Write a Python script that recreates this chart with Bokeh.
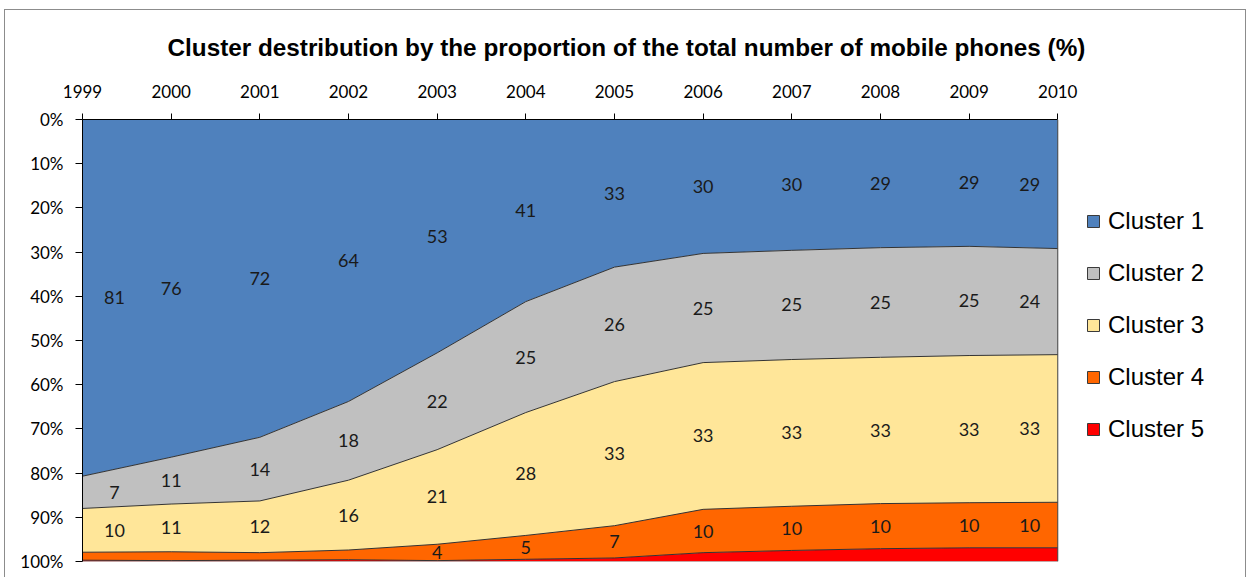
from bokeh.plotting import figure
from bokeh.models import Range1d, ColumnDataSource, Legend, LegendItem, FixedTicker, Span
from bokeh.core.properties import value
from bokeh.embed import file_html
from bokeh.resources import INLINE

# ---- data ----
years = [1999, 2000, 2001, 2002, 2003, 2004, 2005, 2006, 2007, 2008, 2009, 2010]
names = ["Cluster 1", "Cluster 2", "Cluster 3", "Cluster 4", "Cluster 5"]
cluster1 = [80.7, 76.4, 71.9, 63.8, 52.8, 41.2, 33.4, 30.3, 29.6, 29.0, 28.7, 29.2]
cluster2 = [7.3, 10.6, 14.4, 17.8, 21.9, 25.1, 25.9, 24.7, 24.7, 24.8, 24.7, 24.0]
cluster3 = [9.9, 10.8, 11.7, 15.8, 21.4, 27.8, 32.6, 33.2, 33.2, 33.1, 33.3, 33.4]
cluster4 = [1.8, 2.0, 1.7, 2.2, 3.7, 5.4, 7.3, 9.8, 10.0, 10.2, 10.2, 10.3]
cluster5 = [0.3, 0.2, 0.3, 0.4, 0.2, 0.5, 0.8, 2.0, 2.5, 2.9, 3.1, 3.1]
y_ticks = [0, 10, 20, 30, 40, 50, 60, 70, 80, 90, 100]
y_tick_labels = ["0%", "10%", "20%", "30%", "40%", "50%", "60%", "70%", "80%", "90%", "100%"]
title_text = "Cluster destribution by the proportion of the total number of mobile phones (%)"

# ---- styles / layout ----
colors = ["#4F81BD", "#C0C0C0", "#FFE699", "#FF6600", "#FF0000"]
series = [cluster1, cluster2, cluster3, cluster4, cluster5]
label_min = 3.5
legend_room = 2.14  # extra x-range (in years) reserved on the right for the legend

data = {"year": years}
for n, s in zip(names, series):
    data[n] = s
src = ColumnDataSource(data)

p = figure(width=1242, height=568,
           x_range=Range1d(years[0], years[-1] + legend_room), y_range=Range1d(100, 0),
           output_backend="svg", toolbar_location=None, x_axis_location="above",
           min_border_left=77, min_border_top=109, min_border_right=0, min_border_bottom=17)
p.styles = {"border-left": "1px solid #8c8c8c", "border-top": "1px solid #8c8c8c",
            "border-right": "1px solid #8c8c8c", "margin-left": "4px", "margin-top": "9px"}

p.title.text = title_text
p.title.align = "left"
p.title.offset = 85
p.title.text_font = "Liberation Sans"
p.title.text_font_style = "bold"
p.title.text_font_size = "24.3px"
p.title.text_color = "#000000"
p.title.standoff = 42

p.varea_stack(stackers=names, x="year", color=colors, source=src)

# boundary lines
cum = [0.0] * len(years)
for s in series[:-1]:
    cum = [a + b for a, b in zip(cum, s)]
    p.line(years, cum, line_color="#333333", line_width=1)

# plot-area border on right and bottom
p.add_layout(Span(location=years[-1], dimension="height", line_color="#404040", line_width=1))
p.segment(x0=[years[0]], x1=[years[-1]], y0=[y_ticks[-1]], y1=[y_ticks[-1]],
          line_color="#8c8c8c", line_width=1)

# data labels
lx, ly, lt, lo = [], [], [], []
cum = [0.0] * len(years)
for s in series:
    for i, (yr, v) in enumerate(zip(years, s)):
        if v >= label_min:
            lx.append(yr)
            ly.append(cum[i] + v / 2)
            lt.append(str(round(v)))
            lo.append(32 if i == 0 else (-28 if i == len(years) - 1 else 0))
    cum = [a + b for a, b in zip(cum, s)]
lsrc = ColumnDataSource(dict(x=lx, y=ly, text=lt, xo=lo))
p.text(x="x", y="y", text="text", x_offset="xo", source=lsrc, text_align="center",
       text_baseline="middle", text_font=value("Lato"), text_font_size="18px",
       text_color="#1a1a1a")

# axes
p.xaxis.ticker = FixedTicker(ticks=years)
p.xaxis.major_label_overrides = {y: str(y) for y in years}
p.xaxis.bounds = (years[0], years[-1])
p.yaxis.ticker = FixedTicker(ticks=y_ticks)
p.yaxis.major_label_overrides = {t: l for t, l in zip(y_ticks, y_tick_labels)}
for ax in (p.xaxis, p.yaxis):
    ax.axis_line_color = "#000000"
    ax.axis_line_width = 1
    ax.major_tick_line_color = "#000000"
    ax.major_tick_in = 0
    ax.minor_tick_line_color = None
    ax.major_label_text_font = "Lato"
    ax.major_label_text_font_size = "17px"
    ax.major_label_text_color = "#000000"
p.xaxis.major_tick_out = 6
p.xaxis.major_label_standoff = 16
p.yaxis.major_tick_out = 7
p.yaxis.major_label_standoff = 12
p.xgrid.visible = False
p.ygrid.visible = False
p.outline_line_color = None

# legend (swatches only, no visible marks on the plot)
nan = float("nan")
items = []
for n, c in zip(names, colors):
    r = p.scatter(x=[nan], y=[nan], marker="square", size=12, fill_color=c, line_color="#3a3a3a")
    items.append(LegendItem(label=n, renderers=[r]))
legend = Legend(items=items, location=(996, 117), glyph_width=30, glyph_height=30,
                label_standoff=0, spacing=22, padding=5, margin=0,
                border_line_color=None, background_fill_alpha=0,
                label_text_font="Liberation Sans", label_text_font_size="24px",
                label_text_color="#000000")
p.add_layout(legend)

open("out.html", "w").write(file_html(p, INLINE))
